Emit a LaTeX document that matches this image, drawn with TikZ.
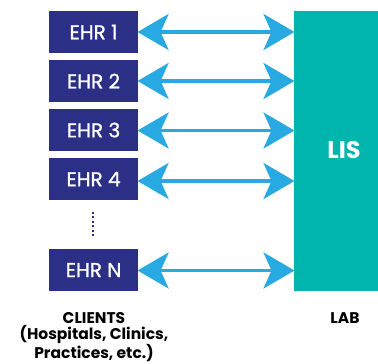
\documentclass[tikz,border=0pt]{standalone}
\usepackage{fontspec}
\setmainfont{Poppins}
\newfontfamily\ehrfont{Poppins}[FakeBold=1.2]
\usetikzlibrary{arrows.meta}
\definecolor{ehrblue}{HTML}{2B3086}
\definecolor{listeal}{HTML}{00B5AD}
\definecolor{arrowblue}{HTML}{29A9E1}
\tikzset{
  ehrbox/.style={fill=ehrblue, text=white, minimum width=88.7pt, minimum height=41.7pt, inner sep=0pt, font=\ehrfont\fontsize{20}{22}\selectfont, anchor=north west},
  link/.style={arrowblue, line width=3.5pt, {Stealth[length=31pt,width=36pt,inset=8pt]}-{Stealth[length=31pt,width=36pt,inset=8pt]}, shorten <=-0.5pt, shorten >=-0.5pt},
  caption/.style={font=\bfseries\fontsize{15.5}{16}\selectfont, align=center, anchor=north, inner sep=0pt}
}
\begin{document}
\begin{tikzpicture}[x=1pt,y=1pt]
\useasboundingbox (0,0) rectangle (378,-364);
\clip (0,0) rectangle (378,-364);
\node[fill=listeal, minimum width=100pt, minimum height=279.7pt, inner sep=0pt, anchor=north west] (lis) at (294,-11) {};
\node[text=white, font=\bfseries\fontsize{24}{26}\selectfont] (listext) at (344,-150) {LIS};
\node[ehrbox] (e1) at (49,-11) {EHR 1};
\node[ehrbox] (e2) at (49,-60) {EHR 2};
\node[ehrbox] (e3) at (49,-109) {EHR 3};
\node[ehrbox] (e4) at (49,-158) {EHR 4};
\node[ehrbox] (en) at (49,-249) {EHR N};
\coordinate (l1) at (294,-32);
\coordinate (l2) at (294,-81);
\coordinate (l3) at (294,-130.5);
\coordinate (l4) at (294,-181);
\coordinate (ln) at (294,-270.5);
\draw[link] (e1.east |- l1) -- (l1);
\draw[link] (e2.east |- l2) -- (l2);
\draw[link] (e3.east |- l3) -- (l3);
\draw[link] (e4.east |- l4) -- (l4);
\draw[link] (en.east |- ln) -- (ln);
\coordinate (d1) at (93,-212);
\coordinate (d2) at (93,-238);
\draw[ehrblue, line width=2.2pt, dash pattern=on 2pt off 2.4pt] (d1) -- (d2);
\node[caption] (clients) at (94,-312) {CLIENTS\\(Hospitals, Clinics,\\Practices, etc.)};
\node[caption] (lab) at (345,-312) {LAB};
\end{tikzpicture}
\end{document}
